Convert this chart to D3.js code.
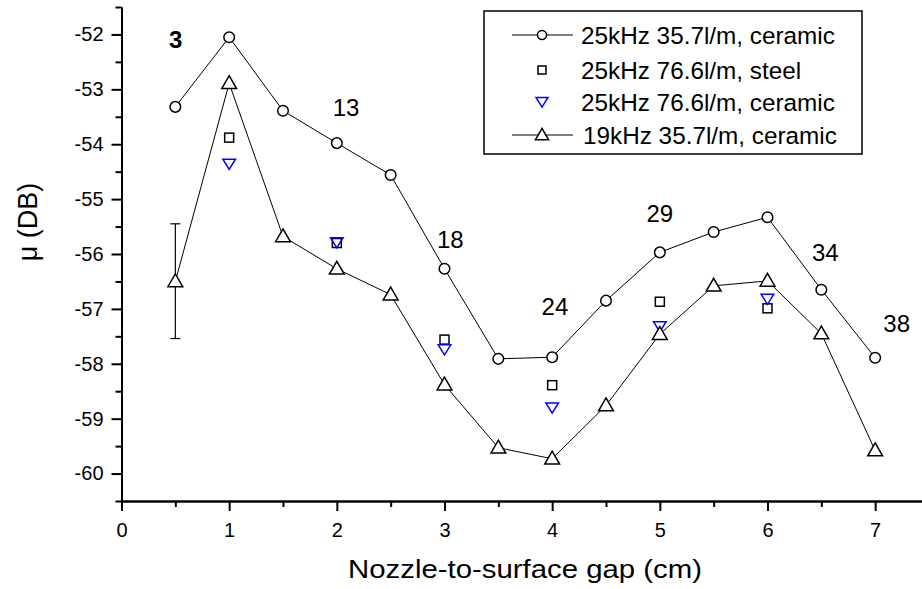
<!DOCTYPE html>
<html><head><meta charset="utf-8">
<script src="https://cdn.jsdelivr.net/npm/d3@7"></script>
<style>body{margin:0;background:#fff}svg{display:block}text{font-family:"Liberation Sans",Arial,sans-serif}</style>
</head><body><svg id="c" width="922" height="589"></svg>
<script>
const gap = [0.5,1,1.5,2,2.5,3,3.5,4,4.5,5,5.5,6,6.5,7];
const s25_357_ceramic = [-53.32,-52.05,-53.39,-53.98,-54.56,-56.27,-57.91,-57.88,-56.85,-55.97,-55.60,-55.33,-56.65,-57.89];
const s19_357_ceramic = [-56.50,-52.89,-55.68,-56.27,-56.74,-58.38,-59.53,-59.73,-58.76,-57.46,-56.58,-56.49,-57.45,-59.58];
const gapB = [1,2,3,4,5,6];
const s25_766_steel = [-53.88,-55.80,-57.56,-58.39,-56.87,-56.99];
const s25_766_ceramic = [-54.36,-55.79,-57.74,-58.80,-57.32,-56.82];
const errX = 0.5, errLow = -57.54, errHigh = -55.45;
const annX = [0.503,2.085,3.054,4.026,5.0,6.537,7.2];
const annY = [-52.10,-53.34,-55.73,-56.95,-55.27,-55.98,-57.27];
const annText = ["3","13","18","24","29","34","38"];
const legendLabels = ["25kHz 35.7l/m, ceramic","25kHz 76.6l/m, steel","25kHz 76.6l/m, ceramic","19kHz 35.7l/m, ceramic"];
const xTicks = [0,1,2,3,4,5,6,7];
const xMinor = [0.5,1.5,2.5,3.5,4.5,5.5,6.5,7.5];
const yTicks = [-52,-53,-54,-55,-56,-57,-58,-59,-60];
const yMinor = [-52.5,-53.5,-54.5,-55.5,-56.5,-57.5,-58.5,-59.5,-60.5,-51.5];

const svg = d3.select("#c");
const x = d3.scaleLinear().domain([0,7.5]).range([121.5,929]);
const y = d3.scaleLinear().domain([-60.5,-51.5]).range([501,7]);

// axes
svg.append("g").attr("transform","translate(0,501)")
  .call(d3.axisBottom(x).tickValues(xMinor).tickFormat("").tickSize(6).tickSizeOuter(0));
svg.append("g").attr("transform","translate(0,501)")
  .call(d3.axisBottom(x).tickValues(xTicks).tickFormat(d3.format("d")).tickSize(10).tickSizeOuter(0).tickPadding(12));
svg.append("g").attr("transform","translate(121.5,0)")
  .call(d3.axisLeft(y).tickValues(yMinor).tickFormat("").tickSize(6).tickSizeOuter(0));
svg.append("g").attr("transform","translate(121.5,0)")
  .call(d3.axisLeft(y).tickValues(yTicks).tickFormat(d=>"-"+Math.abs(d)).tickSize(10).tickSizeOuter(0).tickPadding(8));
svg.selectAll(".domain").attr("stroke","#000").attr("stroke-width",2);
svg.selectAll(".tick line").attr("stroke","#000").attr("stroke-width",2);
svg.selectAll(".tick text").attr("font-size",20).attr("fill","#000").attr("font-family","Liberation Sans, Arial, sans-serif");

svg.append("text").attr("x",525).attr("y",578).attr("text-anchor","middle").attr("font-size",26)
  .attr("textLength",354).attr("lengthAdjust","spacingAndGlyphs").text("Nozzle-to-surface gap (cm)");
svg.append("text").attr("transform","translate(37,222) rotate(-90)").attr("text-anchor","middle").attr("font-size",27).text("μ (DB)");

const line = d3.line().x((d,i)=>x(gap[i])).y(d=>y(d));
// error bar
const eb = svg.append("g").attr("stroke","#000").attr("stroke-width",1.2);
eb.append("line").attr("x1",x(errX)).attr("x2",x(errX)).attr("y1",y(errLow)).attr("y2",y(errHigh));
eb.append("line").attr("x1",x(errX)-5).attr("x2",x(errX)+5).attr("y1",y(errLow)).attr("y2",y(errLow));
eb.append("line").attr("x1",x(errX)-5).attr("x2",x(errX)+5).attr("y1",y(errHigh)).attr("y2",y(errHigh));

svg.append("path").datum(s25_357_ceramic).attr("d",line).attr("fill","none").attr("stroke","#000").attr("stroke-width",1);
svg.append("path").datum(s19_357_ceramic).attr("d",line).attr("fill","none").attr("stroke","#000").attr("stroke-width",1);

const triUp = d3.symbol().type(d3.symbolTriangle).size(95);
const triUpLeg = d3.symbol().type(d3.symbolTriangle).size(75);
function triDownPath(cx,cy,s){return `M${cx-s},${cy-s*0.75}L${cx+s},${cy-s*0.75}L${cx},${cy+s*0.85}Z`;}

svg.append("g").selectAll("circle").data(s25_357_ceramic).join("circle")
  .attr("cx",(d,i)=>x(gap[i])).attr("cy",d=>y(d)).attr("r",5.3)
  .attr("fill","#fff").attr("stroke","#000").attr("stroke-width",1.5);
svg.append("g").selectAll("rect").data(s25_766_steel).join("rect")
  .attr("x",(d,i)=>x(gapB[i])-4.5).attr("y",d=>y(d)-4.5).attr("width",9).attr("height",9)
  .attr("fill","#fff").attr("stroke","#000").attr("stroke-width",1.5);
svg.append("g").selectAll("path").data(s25_766_ceramic).join("path")
  .attr("d",(d,i)=>triDownPath(x(gapB[i]),y(d),6.3))
  .attr("fill","none").attr("stroke","#0000ff").attr("stroke-width",1.5);
svg.append("g").selectAll("path").data(s19_357_ceramic).join("path")
  .attr("transform",(d,i)=>`translate(${x(gap[i])},${y(d)+1})`).attr("d",triUp)
  .attr("fill","#fff").attr("stroke","#000").attr("stroke-width",1.5);

svg.append("g").selectAll("text").data(annText).join("text")
  .attr("x",(d,i)=>x(annX[i])).attr("y",(d,i)=>y(annY[i]))
  .attr("text-anchor","middle").attr("dominant-baseline","central").attr("font-size",24)
  .attr("font-weight",(d,i)=>i===0?"bold":"normal").text(d=>d);

// legend
const lg = svg.append("g");
lg.append("rect").attr("x",484).attr("y",11).attr("width",378).attr("height",143).attr("fill","#fff").attr("stroke","#000").attr("stroke-width",1.5);
const rowsY = [35,70,102,135];
legendLabels.forEach((t,i)=>{
  const cy = rowsY[i], cx = 542;
  if(i===0||i===3) lg.append("line").attr("x1",512).attr("x2",573).attr("y1",cy).attr("y2",cy).attr("stroke","#000");
  if(i===0) lg.append("circle").attr("cx",cx).attr("cy",cy).attr("r",4.5).attr("fill","#fff").attr("stroke","#000").attr("stroke-width",1.5);
  if(i===1) lg.append("rect").attr("x",cx-4).attr("y",cy-4).attr("width",8).attr("height",8).attr("fill","#fff").attr("stroke","#000").attr("stroke-width",1.5);
  if(i===2) lg.append("path").attr("d",triDownPath(cx,cy,6)).attr("fill","none").attr("stroke","#0000ff").attr("stroke-width",1.5);
  if(i===3) lg.append("path").attr("transform",`translate(${cx},${cy+1})`).attr("d",triUpLeg).attr("fill","#fff").attr("stroke","#000").attr("stroke-width",1.5);
  lg.append("text").attr("x",i===3?583:581).attr("y",cy).attr("dominant-baseline","central").attr("font-size",24.3).text(t);
});
</script></body></html>
